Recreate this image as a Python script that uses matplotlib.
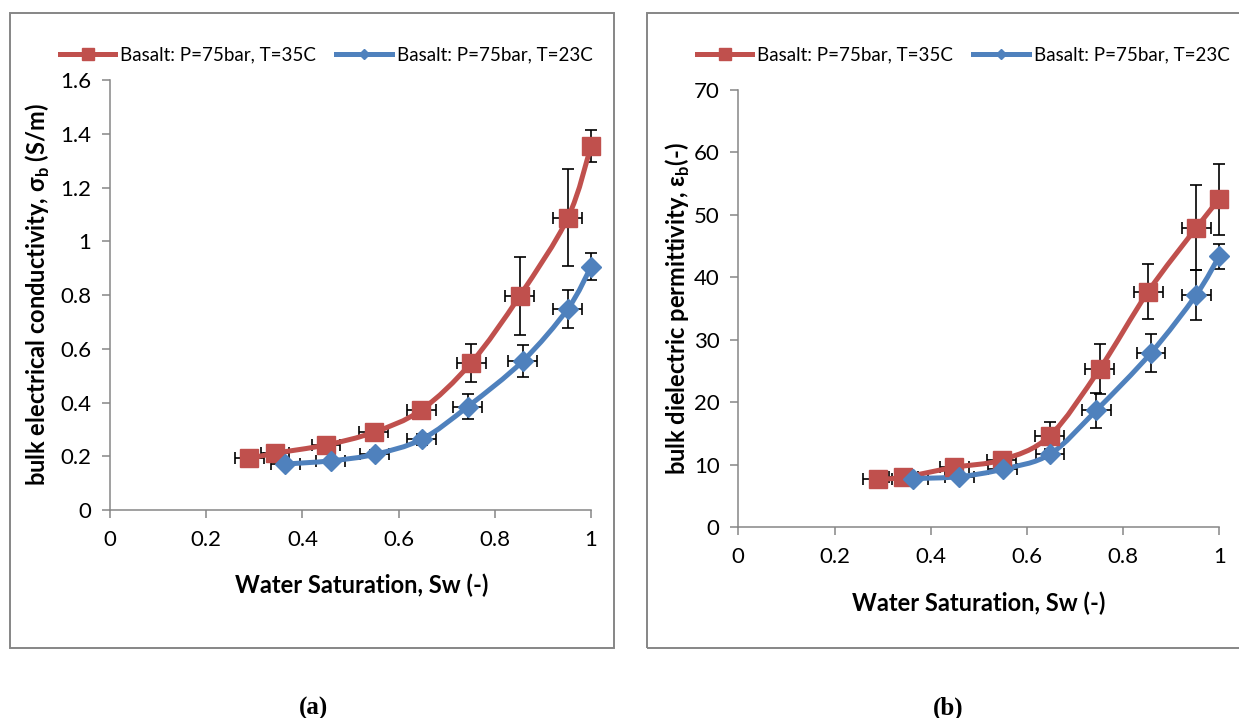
import numpy as np
import matplotlib
matplotlib.use('Agg')
import matplotlib.pyplot as plt
from matplotlib.path import Path
from matplotlib.patches import PathPatch, Rectangle
from matplotlib.lines import Line2D

plt.rcParams['font.family'] = ['Lato', 'DejaVu Sans']
plt.rcParams['mathtext.fontset'] = 'custom'
plt.rcParams['mathtext.rm'] = 'Lato'
plt.rcParams['mathtext.bf'] = 'Lato:bold'

# water saturation of each measurement
sw_35 = [0.29, 0.343, 0.449, 0.548, 0.647, 0.751, 0.852, 0.952, 1.0]
sw_23 = [0.364, 0.459, 0.55, 0.648, 0.744, 0.858, 0.952, 1.0]
sw_err_35 = [0.03, 0.03, 0.03, 0.03, 0.03, 0.03, 0.03, 0.03, 0.0]
sw_err_23 = [0.03, 0.03, 0.03, 0.03, 0.03, 0.03, 0.03, 0.0]

# bulk electrical conductivity (S/m)
sigma_35 = [0.192, 0.211, 0.242, 0.289, 0.372, 0.548, 0.797, 1.088, 1.354]
sigma_23 = [0.171, 0.183, 0.207, 0.263, 0.385, 0.554, 0.749, 0.905]
sigma_err_35 = [0.01, 0.01, 0.02, 0.02, 0.02, 0.07, 0.145, 0.18, 0.06]
sigma_err_23 = [0.01, 0.01, 0.015, 0.02, 0.045, 0.06, 0.07, 0.05]

# bulk dielectric permittivity (-)
eps_35 = [7.7, 8.0, 9.6, 10.8, 14.6, 25.3, 37.7, 47.9, 52.5]
eps_23 = [7.8, 8.1, 9.3, 11.7, 18.7, 27.9, 37.2, 43.4]
eps_err_35 = [0.3, 0.3, 0.5, 0.5, 2.3, 4.0, 4.4, 6.8, 5.7]
eps_err_23 = [0.3, 0.3, 0.5, 0.8, 2.8, 3.0, 4.0, 2.0]

lbl_35 = 'Basalt: P=75bar, T=35C'
lbl_23 = 'Basalt: P=75bar, T=23C'
red = '#C0504D'
blue = '#4F81BD'
gray = '#868686'


def smooth_path(x, y):
    # catmull-rom segments as cubic bezier, like excel "smoothed line"
    p = np.column_stack([x, y]).astype(float)
    n = len(p)
    verts = [p[0]]
    codes = [Path.MOVETO]
    for i in range(n - 1):
        p0 = p[i - 1] if i > 0 else p[i]
        p3 = p[i + 2] if i + 2 < n else p[i + 1]
        c1 = p[i] + (p[i + 1] - p0) / 6
        c2 = p[i + 1] - (p3 - p[i]) / 6
        verts += [c1, c2, p[i + 1]]
        codes += [Path.CURVE4] * 3
    return Path(verts, codes)


def panel(ax, ya, yb, ea, eb, ylim, ystep, ylabel):
    for x, y, xe, ye, col, mk, ms in [
            (sw_35, ya, sw_err_35, ea, red, 's', 13.5),
            (sw_23, yb, sw_err_23, eb, blue, 'D', 10)]:
        ax.errorbar(x, y, xerr=xe, yerr=ye, fmt='none', ecolor='black',
                    elinewidth=1.2, capsize=4, capthick=1.2, zorder=2,
                    clip_on=False)
        ax.add_patch(PathPatch(smooth_path(x, y), fill=False, edgecolor=col,
                               lw=3.6, zorder=3, clip_on=False,
                               capstyle='round', joinstyle='round'))
        ax.plot(x, y, ls='none', marker=mk, ms=ms, color=col, mec=col,
                zorder=4, clip_on=False)

    ax.set_xlim(0, 1)
    ax.set_ylim(0, ylim)
    ax.set_xticks(np.arange(0, 1.01, 0.2))
    ax.set_yticks(np.arange(0, ylim + ystep / 2, ystep))
    ax.xaxis.set_major_formatter(plt.FuncFormatter(lambda v, p: '%g' % round(v, 2)))
    ax.yaxis.set_major_formatter(plt.FuncFormatter(lambda v, p: '%g' % round(v, 2)))
    for s in ['top', 'right']:
        ax.spines[s].set_visible(False)
    for s in ['left', 'bottom']:
        ax.spines[s].set_color(gray)
        ax.spines[s].set_linewidth(1.1)
    ax.tick_params(direction='out', length=5.5, width=1.1, color=gray,
                   labelsize=16, labelcolor='black')
    ax.tick_params(axis='x', pad=9)
    ax.tick_params(axis='y', pad=8)
    ax.set_xlabel('Water Saturation, Sw (-)', fontsize=17, fontweight='bold', va='center')
    ax.set_ylabel(ylabel, fontsize=17, fontweight='bold', va='center')

    handles = [Line2D([], [], color=red, lw=3.6, marker='s', ms=8),
               Line2D([], [], color=blue, lw=3.6, marker='D', ms=5)]
    return handles


fig = plt.figure(figsize=(12.39, 7.18), dpi=100)

ax1 = fig.add_axes([110 / 1239, 1 - 510 / 718, 481 / 1239, 430 / 718])
ax2 = fig.add_axes([738.3 / 1239, 1 - 527.3 / 718, 481 / 1239, 437.5 / 718])

h1 = panel(ax1, sigma_35, sigma_23, sigma_err_35, sigma_err_23, 1.6, 0.2,
           r'bulk electrical conductivity, σ$_{\mathbf{b}}$ (S/m)')
h2 = panel(ax2, eps_35, eps_23, eps_err_35, eps_err_23, 70, 10,
           r'bulk dielectric permittivity, ε$_{\mathbf{b}}$(-)')

ax1.xaxis.set_label_coords(0.524, -75 / 430)
ax1.yaxis.set_label_coords(-72 / 481, 0.5)
ax2.xaxis.set_label_coords(0.5, -76 / 437.5)
ax2.yaxis.set_label_coords(-60 / 481, 0.5)

for ax, h, x0 in [(ax1, h1, 60), (ax2, h2, 697)]:
    ax.legend(h, [lbl_35, lbl_23], loc='center left', ncol=2, frameon=False,
              bbox_to_anchor=(x0 / 1239, 1 - 55 / 718), bbox_transform=fig.transFigure,
              fontsize=13.5, handlelength=2.95, handletextpad=0.27, columnspacing=1.07,
              borderpad=0, borderaxespad=0)

# outer chart frames
fig.patches.append(Rectangle((9.5 / 1239, 1 - 648 / 718), 604.5 / 1239, 635.5 / 718,
                             transform=fig.transFigure, fill=False, ec=gray, lw=1.4))
fig.patches.append(Rectangle((646.7 / 1239, 1 - 648 / 718), 620 / 1239, 635.5 / 718,
                             transform=fig.transFigure, fill=False, ec=gray, lw=1.4))

fig.text(313 / 1239, 1 - 708 / 718, '(a)', family='Liberation Serif', fontweight='bold',
         fontsize=18, ha='center', va='center')
fig.text(948 / 1239, 1 - 708 / 718, '(b)', family='Liberation Serif', fontweight='bold',
         fontsize=18, ha='center', va='center')

fig.savefig('out.png', dpi=100)
